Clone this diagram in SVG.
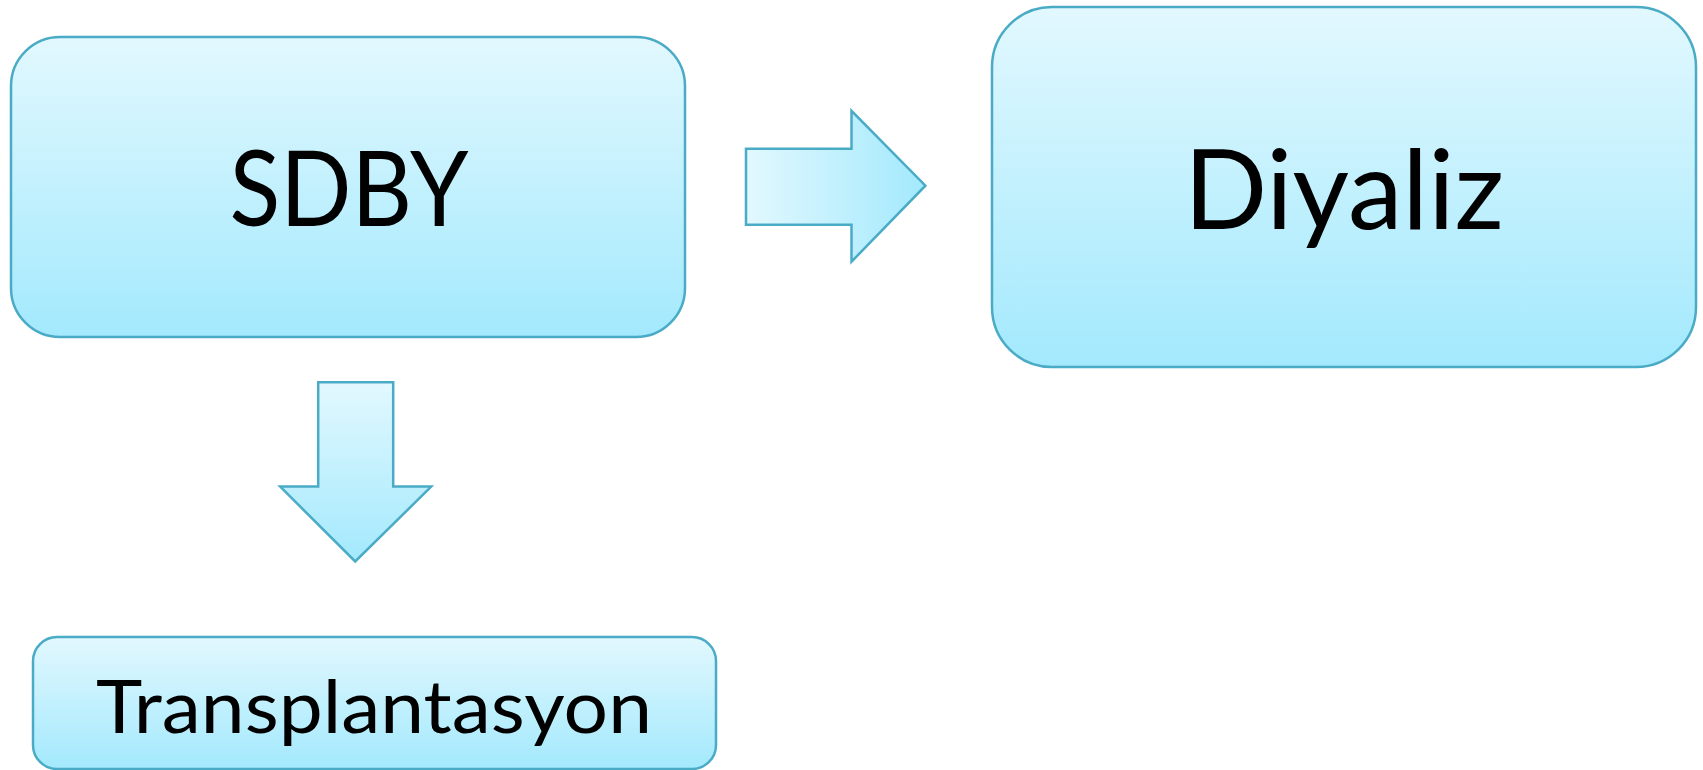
<svg xmlns="http://www.w3.org/2000/svg" width="1703" height="770" viewBox="0 0 1703 770">
<defs>
<linearGradient id="gv" x1="0" y1="0" x2="0" y2="1">
<stop offset="0" stop-color="#e2f8fe"/>
<stop offset="1" stop-color="#a3e9fd"/>
</linearGradient>
<linearGradient id="gh" x1="0" y1="0" x2="1" y2="0">
<stop offset="0" stop-color="#e2f8fe"/>
<stop offset="1" stop-color="#a3e9fd"/>
</linearGradient>
<style>
.box{fill:url(#gv);stroke:#4aabc6;stroke-width:2.5}
.lbl{font-family:Lato,"Open Sans",sans-serif;fill:#000;text-anchor:middle}
</style>
</defs>
<rect width="1703" height="770" fill="#fff"/>
<g id="connectors">
<path d="M746,148.8 H851.5 V110.8 L925.4,185.7 L851.5,261.7 V224.8 H746 Z" fill="url(#gh)" stroke="#4aabc6" stroke-width="2.5"/>
<path d="M318.2,382.3 H393.2 V486.6 H431.2 L355.2,561.5 L280.2,486.6 H318.2 Z" fill="url(#gv)" stroke="#4aabc6" stroke-width="2.5"/>
</g>
<g id="sdby">
<rect class="box" x="11" y="37" width="674" height="300" rx="49"/>
<text class="lbl" x="349" y="226" font-size="104" textLength="239" lengthAdjust="spacingAndGlyphs">SDBY</text>
</g>
<g id="diyaliz">
<rect class="box" x="992" y="7" width="704" height="360" rx="60"/>
<text class="lbl" x="1344" y="229" font-size="111" textLength="320" lengthAdjust="spacingAndGlyphs">Diyaliz</text>
</g>
<g id="transplantasyon">
<rect class="box" x="33" y="637" width="683" height="132" rx="24"/>
<text class="lbl" x="374" y="733" font-size="74" textLength="556" lengthAdjust="spacingAndGlyphs">Transplantasyon</text>
</g>
</svg>
